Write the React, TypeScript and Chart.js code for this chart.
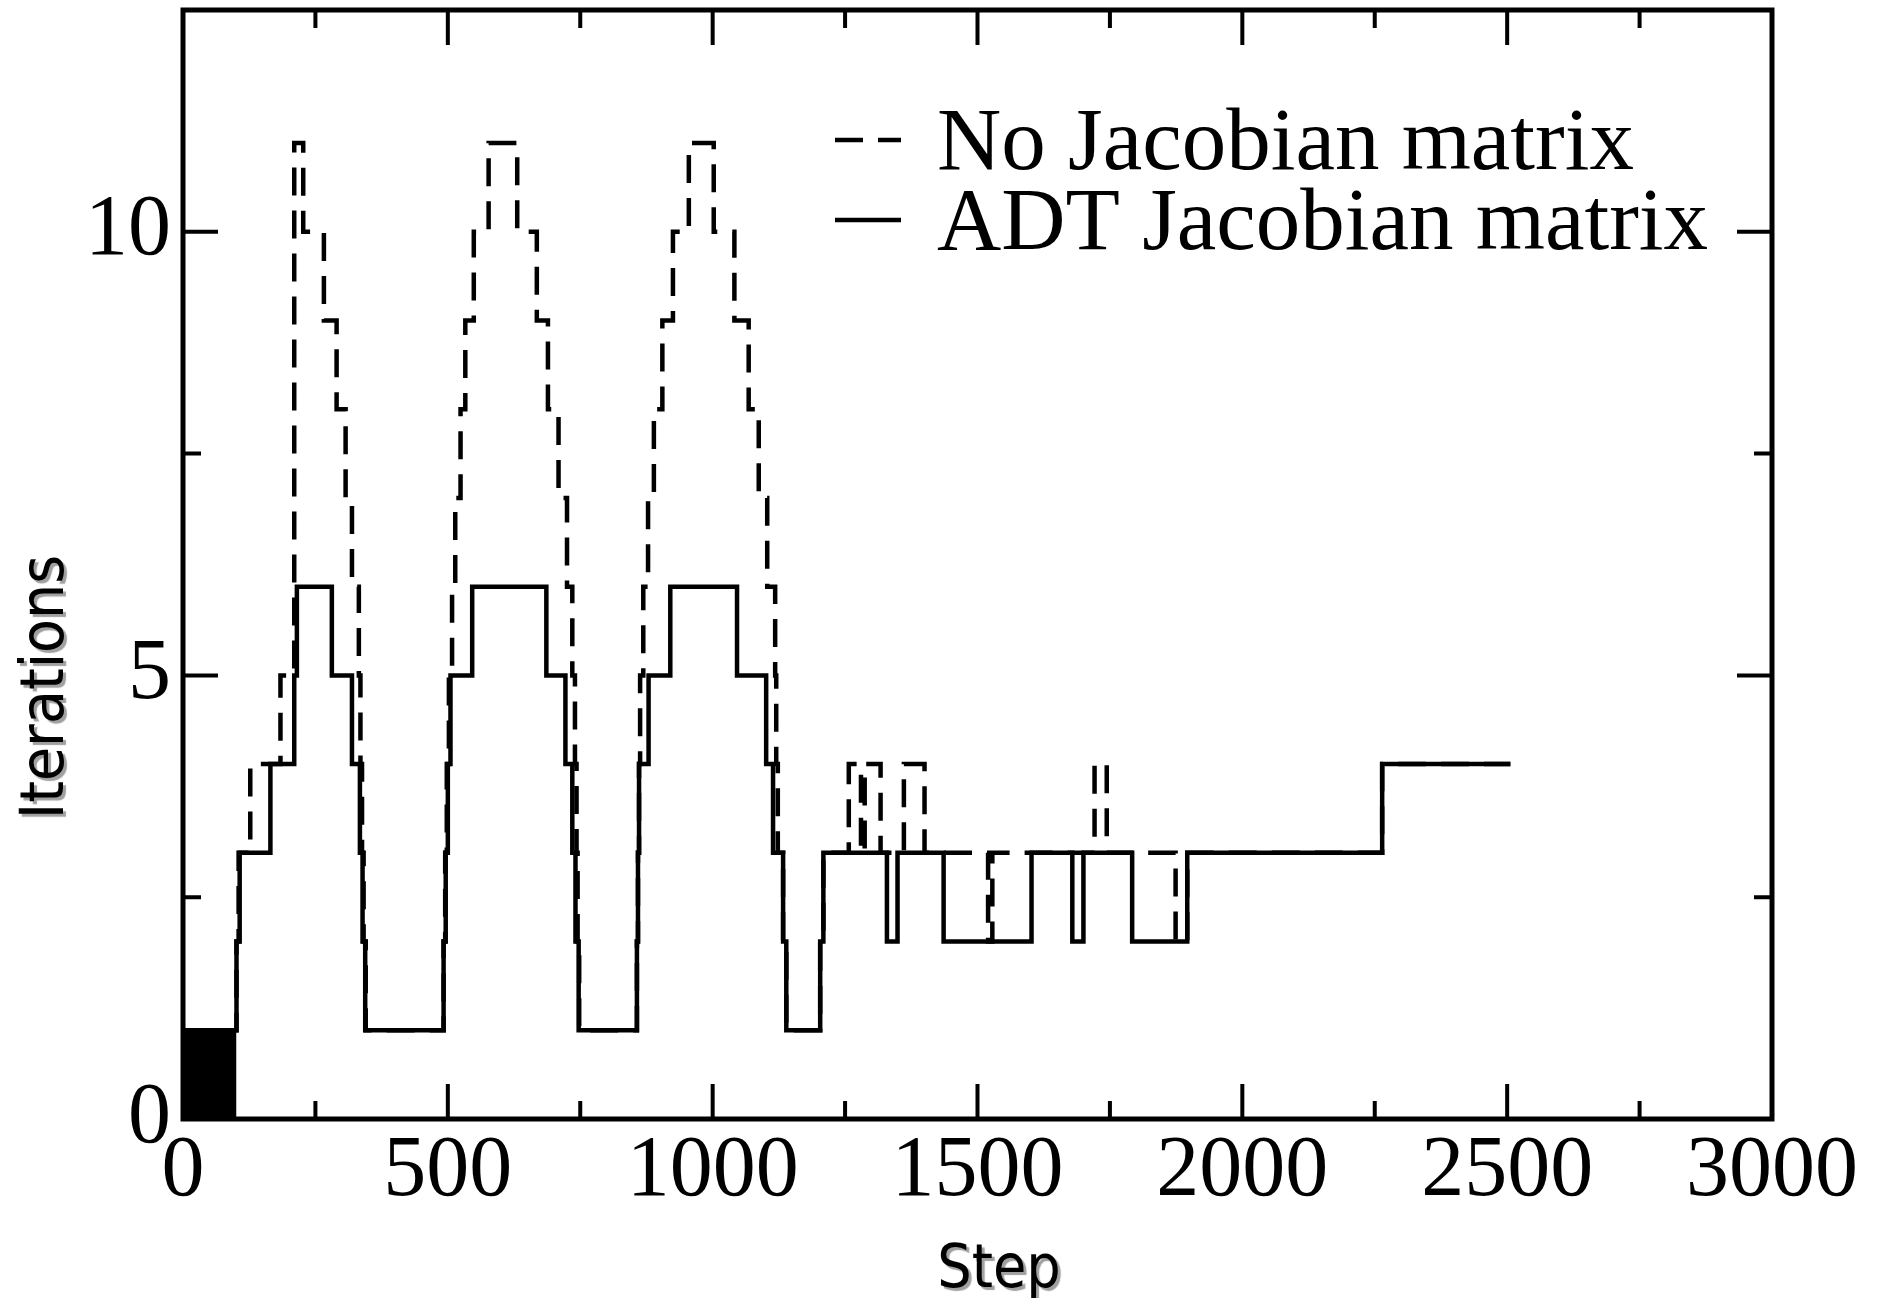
import React, { useEffect, useRef } from "react";
import { Chart, registerables } from "chart.js";

Chart.register(...registerables);

const W = 1884;
const H = 1298;

// ADT Jacobian matrix (solid): step where each value starts, value held until next step
const adtSteps = [0, 101, 107, 165, 210, 215, 281, 319, 334, 339, 344,
  492, 496, 500, 505, 546, 686, 722, 735, 741, 747,
  857, 859, 861, 879, 920, 1046, 1101, 1114, 1133, 1139,
  1203, 1209, 1329, 1349, 1436, 1602, 1679, 1700, 1792, 1896, 2264, 2506];
const adtIterations = [1, 2, 3, 4, 5, 6, 5, 4, 3, 2, 1,
  2, 3, 4, 5, 6, 5, 4, 3, 2, 1,
  2, 3, 4, 5, 6, 5, 4, 3, 2, 1,
  2, 3, 2, 3, 2, 3, 2, 3, 2, 3, 4, 4];

// No Jacobian matrix (dashed)
const noJacSteps = [0, 101, 105, 127, 184, 210, 227, 266, 290, 307, 319, 332, 335, 338, 341, 345,
  492, 495, 498, 502, 508, 514, 524, 533, 549, 577, 631, 668, 689, 709, 725, 735, 740, 743, 745, 748,
  857, 859, 861, 863, 869, 878, 889, 905, 925, 955, 1002, 1041, 1068, 1087, 1103, 1118, 1120, 1123, 1133, 1139,
  1203, 1209, 1257, 1280, 1287, 1317, 1361, 1400, 1520, 1528, 1721, 1744, 1874, 1896, 2264, 2506];
const noJacIterations = [1, 2, 3, 4, 5, 11, 10, 9, 8, 7, 6, 5, 4, 3, 2, 1,
  2, 3, 4, 5, 6, 7, 8, 9, 10, 11, 10, 9, 8, 7, 6, 5, 4, 3, 2, 1,
  2, 3, 4, 5, 6, 7, 8, 9, 10, 11, 10, 9, 8, 7, 6, 5, 4, 3, 2, 1,
  2, 3, 4, 3, 4, 3, 4, 3, 2, 3, 4, 3, 2, 3, 4, 4];

// start-up region where both runs oscillate between 0 and 1 (drawn as solid block)
const burstSteps = [0, 101];
const burstIterations = [1, 1];

const xMajorTicks = [0, 500, 1000, 1500, 2000, 2500, 3000];
const yMajorTicks = [0, 5, 10];
const yMax = 12.5;

const seriesLabels = ["ADT Jacobian matrix", "No Jacobian matrix"];

const serif = '"Liberation Serif", "Times New Roman", Times, serif';
const sans = '"DejaVu Sans", Verdana, sans-serif';

const toPoints = (xs: number[], ys: number[]) => xs.map((x, i) => ({ x, y: ys[i] }));

const framePlugin = {
  id: "frameTicks",
  afterDatasetsDraw(chart: any) {
    const ctx = chart.ctx;
    const { left, right, top, bottom } = chart.chartArea;
    const xs = chart.scales.x;
    const ys = chart.scales.y;
    ctx.save();
    ctx.strokeStyle = "#000";
    ctx.lineCap = "butt";
    ctx.setLineDash([]);
    ctx.lineWidth = 4;
    const major = 35;
    const minor = 18;
    const xMinor = xMajorTicks.slice(1).map((v, i) => (v + xMajorTicks[i]) / 2);
    const yMinor = yMajorTicks.slice(1).map((v, i) => (v + yMajorTicks[i]) / 2);
    const yLast = yMajorTicks[yMajorTicks.length - 1];
    const yStep = yMajorTicks[1] - yMajorTicks[0];
    if (yLast + yStep / 2 < yMax) yMinor.push(yLast + yStep / 2);
    const drawX = (v: number, len: number) => {
      const px = xs.getPixelForValue(v);
      ctx.beginPath();
      ctx.moveTo(px, bottom);
      ctx.lineTo(px, bottom - len);
      ctx.moveTo(px, top);
      ctx.lineTo(px, top + len);
      ctx.stroke();
    };
    const drawY = (v: number, len: number) => {
      const py = ys.getPixelForValue(v);
      ctx.beginPath();
      ctx.moveTo(left, py);
      ctx.lineTo(left + len, py);
      ctx.moveTo(right, py);
      ctx.lineTo(right - len, py);
      ctx.stroke();
    };
    xMajorTicks.forEach((v) => drawX(v, major));
    xMinor.forEach((v) => drawX(v, minor));
    yMajorTicks.forEach((v) => drawY(v, major));
    yMinor.forEach((v) => drawY(v, minor));
    ctx.lineWidth = 5;
    ctx.strokeRect(left, top, right - left, bottom - top);
    ctx.restore();
  },
};

const legendPlugin = {
  id: "insideLegend",
  afterDraw(chart: any) {
    const ctx = chart.ctx;
    const order = [1, 0];
    ctx.save();
    ctx.font = `89px ${serif}`;
    ctx.fillStyle = "#000";
    ctx.textAlign = "left";
    ctx.textBaseline = "alphabetic";
    order.forEach((di, row) => {
      const ds = chart.data.datasets[di];
      const cy = 140 + row * 80;
      ctx.strokeStyle = "#000";
      ctx.lineWidth = 4.5;
      ctx.lineCap = "butt";
      ctx.setLineDash(ds.borderDash || []);
      ctx.beginPath();
      ctx.moveTo(835, cy);
      ctx.lineTo(901, cy);
      ctx.stroke();
      ctx.setLineDash([]);
      ctx.fillText(ds.label, 937, cy + 29);
    });
    ctx.restore();
  },
};

const titlesPlugin = {
  id: "shadowTitles",
  afterDraw(chart: any) {
    const ctx = chart.ctx;
    ctx.save();
    ctx.font = `61px ${sans}`;
    ctx.fillStyle = "#000";
    ctx.shadowColor = "rgba(150,150,150,0.9)";
    ctx.shadowOffsetX = 3;
    ctx.shadowOffsetY = 3;
    ctx.shadowBlur = 1;
    ctx.textAlign = "center";
    ctx.textBaseline = "alphabetic";
    ctx.save();
    ctx.translate(999, 1287);
    ctx.scale(0.89, 1);
    ctx.fillText("Step", 0, 0);
    ctx.restore();
    ctx.save();
    ctx.translate(63, 687);
    ctx.rotate(-Math.PI / 2);
    ctx.scale(0.91, 1);
    ctx.fillText("Iterations", 0, 0);
    ctx.restore();
    ctx.restore();
  },
};

export default function App() {
  const ref = useRef<HTMLCanvasElement | null>(null);

  useEffect(() => {
    const canvas = ref.current;
    if (!canvas) return;
    const tickFont = { family: serif, size: 86 };
    const chart = new Chart(canvas, {
      type: "line",
      data: {
        datasets: [
          {
            label: seriesLabels[0],
            data: toPoints(adtSteps, adtIterations),
            stepped: "before",
            borderColor: "#000",
            borderWidth: 4.5,
            pointRadius: 0,
            fill: false,
          },
          {
            label: seriesLabels[1],
            data: toPoints(noJacSteps, noJacIterations),
            stepped: "before",
            borderColor: "#000",
            borderWidth: 4.5,
            borderDash: [28, 15],
            pointRadius: 0,
            fill: false,
          },
          {
            label: "start-up",
            data: toPoints(burstSteps, burstIterations),
            stepped: "before",
            borderColor: "#000",
            borderWidth: 0,
            backgroundColor: "#000",
            pointRadius: 0,
            fill: "origin",
          },
        ],
      } as any,
      options: {
        responsive: false,
        devicePixelRatio: 1,
        animation: false,
        layout: { padding: { left: 0, right: 112, top: 10, bottom: 0 } },
        plugins: {
          legend: { display: false },
          tooltip: { enabled: false },
          title: { display: false },
        },
        scales: {
          x: {
            type: "linear",
            min: 0,
            max: 3000,
            grid: { display: false, drawTicks: false },
            border: { display: false },
            ticks: {
              font: tickFont,
              color: "#000",
              padding: 2,
              maxRotation: 0,
              autoSkip: false,
              callback: (v: any) => String(v),
            },
            afterBuildTicks: (s: any) => {
              s.ticks = xMajorTicks.map((v) => ({ value: v }));
            },
            afterFit: (s: any) => {
              s.height = 179;
              s.paddingLeft = 0;
              s.paddingRight = 0;
            },
          },
          y: {
            type: "linear",
            min: 0,
            max: yMax,
            grid: { display: false, drawTicks: false },
            border: { display: false },
            ticks: {
              font: tickFont,
              color: "#000",
              padding: 12,
              autoSkip: false,
              callback: (v: any) => String(v),
            },
            afterBuildTicks: (s: any) => {
              s.ticks = yMajorTicks.map((v) => ({ value: v }));
            },
            afterFit: (s: any) => {
              s.width = 183;
              s.paddingTop = 0;
              s.paddingBottom = 0;
            },
          },
        },
      } as any,
      plugins: [framePlugin, legendPlugin, titlesPlugin],
    });
    return () => chart.destroy();
  }, []);

  return (
    <div style={{ position: "fixed", left: 0, top: 0, width: W, height: H, overflow: "hidden", background: "#fff" }}>
      <canvas ref={ref} width={W} height={H} style={{ display: "block", width: W, height: H }} />
    </div>
  );
}
